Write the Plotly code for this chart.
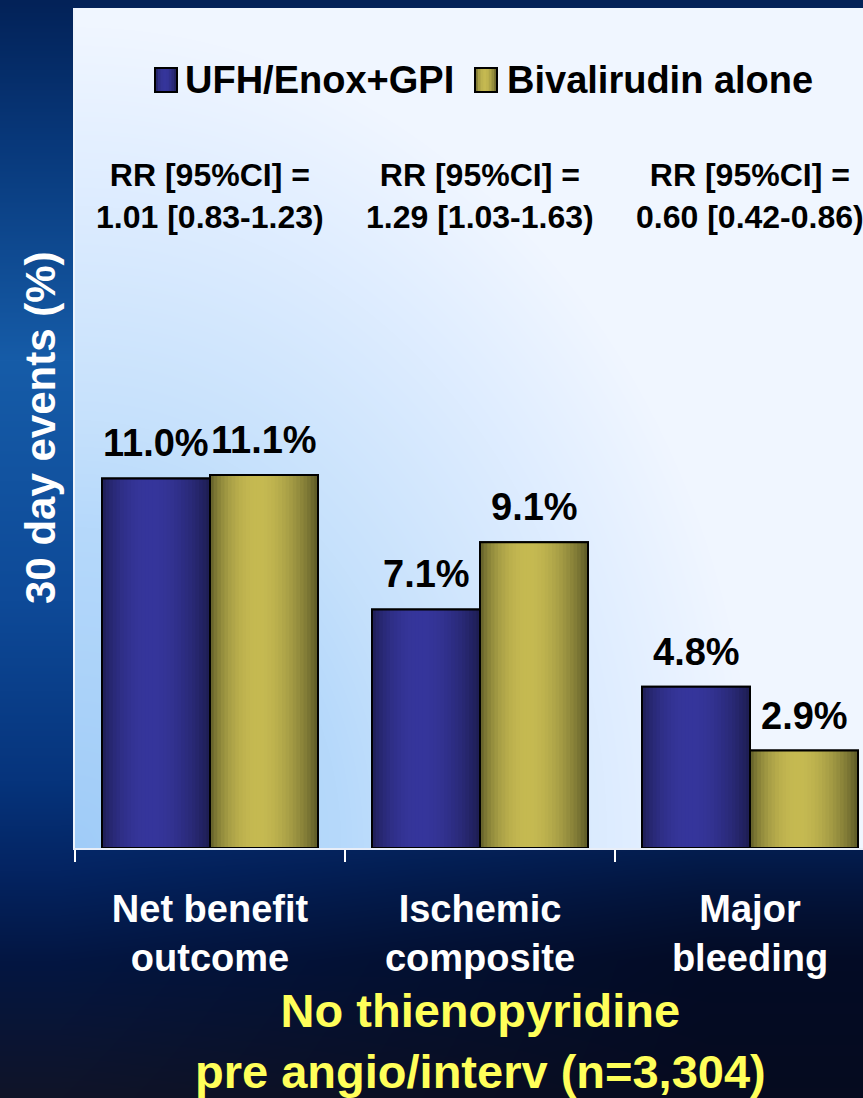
import base64
import struct
import zlib

import numpy as np
import plotly.graph_objects as go

# ---- data ----
categories = ["Net benefit<br>outcome", "Ischemic<br>composite", "Major<br>bleeding"]
series_names = ["UFH/Enox+GPI", "Bivalirudin alone"]
ufh_enox_gpi = [11.0, 7.1, 4.8]
bivalirudin_alone = [11.1, 9.1, 2.9]
rr_labels = [
    "RR [95%CI] =<br>1.01 [0.83-1.23)",
    "RR [95%CI] =<br>1.29 [1.03-1.63)",
    "RR [95%CI] =<br>0.60 [0.42-0.86)",
]
y_title = "30 day events (%)"
subtitle = "No thienopyridine<br>pre angio/interv (n=3,304)"

# ---- geometry / style ----
W, H = 863, 1098
ML, MR, MT, MB = 75, 0, 8, 250
PW, PH = W - ML - MR, H - MT - MB
Y_MAX = 25.0
CAT_PX = 270.0
X_RANGE = [-0.5, -0.5 + PW / CAT_PX]
BARGAP = 0.2
BAR_W = (1 - BARGAP) / 2
FONT = "Liberation Sans, Arial, sans-serif"

# cylinder shading: (edge colour, centre colour)
shade = {
    0: ((28, 28, 78), (54, 54, 156)),
    1: ((88, 86, 38), (198, 186, 82)),
}
mid_colors = ["#2f2f8c", "#b5ab4c"]

# legend layout (pixels): swatch left edge, text left edge
legend_items_px = [(155, 183), (475, 505)]
LEGEND_Y_PX = 80
SWATCH_W, SWATCH_H = 22, 24


def px_x(p):
    return (p - ML) / PW


def px_y(p):
    return (MT + PH - p) / PH


def interp_stops(pos, stops):
    ps = np.array([s[0] for s in stops], dtype=float)
    cs = np.array([s[1] for s in stops], dtype=float)
    out = np.empty(pos.shape + (3,))
    for c in range(3):
        out[..., c] = np.interp(pos, ps, cs[:, c])
    return out


def shade_color(s, t):
    edge, centre = np.array(shade[s][0]), np.array(shade[s][1])
    p = np.sin(np.pi * t ** 0.85) ** 0.8
    c = edge + (centre - edge) * p
    return "rgb(%d,%d,%d)" % tuple(c.astype(int))


def png_data_uri(img):
    h, w, _ = img.shape
    img = img.astype(np.uint8)
    sub = img.copy()
    sub[:, 1:, :] = img[:, 1:, :] - img[:, :-1, :]
    raw = b"".join(b"\x01" + sub[r].tobytes() for r in range(h))

    def chunk(tag, data):
        c = struct.pack(">I", len(data)) + tag + data
        return c + struct.pack(">I", zlib.crc32(tag + data) & 0xFFFFFFFF)

    png = b"\x89PNG\r\n\x1a\n"
    png += chunk(b"IHDR", struct.pack(">IIBBBBB", w, h, 8, 2, 0, 0, 0))
    png += chunk(b"IDAT", zlib.compress(raw, 9))
    png += chunk(b"IEND", b"")
    return "data:image/png;base64," + base64.b64encode(png).decode()


# ---- slide background: blue/navy gradient with a light chart panel ----
yy, xx = np.mgrid[0:H, 0:W].astype(float)
bg = interp_stops(
    yy,
    [
        (0, (3, 34, 88)),
        (140, (8, 56, 122)),
        (360, (22, 92, 168)),
        (600, (14, 74, 152)),
        (780, (6, 52, 124)),
        (870, (4, 36, 98)),
        (960, (3, 22, 66)),
        (1098, (16, 20, 40)),
    ],
)
dark = np.array([3, 8, 28], dtype=float)
fade = np.clip((xx - 60) / 650.0, 0, 1) * np.clip((yy - 760) / 200.0, 0, 1) * 0.75
bg = bg * (1 - fade[..., None]) + dark * fade[..., None]

u = (xx - ML) / PW
v = (MT + PH - yy) / PH
d = np.sqrt((u / 0.75) ** 2 + (v / 0.85) ** 2)
panel = interp_stops(
    d,
    [
        (0.0, (160, 204, 248)),
        (0.45, (182, 217, 251)),
        (0.6, (198, 225, 252)),
        (0.9, (221, 236, 255)),
        (1.15, (240, 246, 255)),
    ],
)
in_panel = (xx >= ML) & (yy >= MT) & (yy <= MT + PH)
bg[in_panel] = panel[in_panel]
bg_uri = png_data_uri(np.clip(bg, 0, 255))

# ---- figure ----
fig = go.Figure()
for s, (name, vals) in enumerate(zip(series_names, [ufh_enox_gpi, bivalirudin_alone])):
    fig.add_trace(
        go.Bar(
            x=categories,
            y=vals,
            name=name,
            marker=dict(color=mid_colors[s], line=dict(color="black", width=2)),
            hoverinfo="skip",
            showlegend=False,
        )
    )

shapes = []
annotations = []
K = 30
for s, vals in enumerate([ufh_enox_gpi, bivalirudin_alone]):
    off = (s - 0.5) * BAR_W
    for i, val in enumerate(vals):
        left = i + off - BAR_W / 2
        step = BAR_W / K
        for k in range(K):
            x1 = min(left + (k + 2) * step, left + BAR_W)
            shapes.append(
                dict(
                    type="rect", xref="x", yref="y", layer="above",
                    x0=left + k * step, x1=x1, y0=0, y1=val,
                    fillcolor=shade_color(s, (k + 0.5) / K),
                    line=dict(width=0),
                )
            )
        shapes.append(
            dict(
                type="rect", xref="x", yref="y", layer="above",
                x0=left, x1=left + BAR_W, y0=0, y1=val,
                fillcolor="rgba(0,0,0,0)", line=dict(color="black", width=2),
            )
        )
        annotations.append(
            dict(
                x=i + off, y=val, xref="x", yref="y", text=f"{val:.1f}%",
                showarrow=False, xanchor="center", yanchor="bottom", yshift=12,
                font=dict(family=FONT, size=38, color="black", weight="bold"),
            )
        )

# legend: shaded swatches with series names
KS = 8
for s, (name, (sx, tx)) in enumerate(zip(series_names, legend_items_px)):
    y0 = px_y(LEGEND_Y_PX + SWATCH_H / 2)
    y1 = px_y(LEGEND_Y_PX - SWATCH_H / 2)
    for k in range(KS):
        shapes.append(
            dict(
                type="rect", xref="paper", yref="paper", layer="above",
                x0=px_x(sx + k * SWATCH_W / KS),
                x1=px_x(sx + min(k + 2, KS) * SWATCH_W / KS),
                y0=y0, y1=y1, fillcolor=shade_color(s, (k + 0.5) / KS),
                line=dict(width=0),
            )
        )
    shapes.append(
        dict(
            type="rect", xref="paper", yref="paper", layer="above",
            x0=px_x(sx), x1=px_x(sx + SWATCH_W), y0=y0, y1=y1,
            fillcolor="rgba(0,0,0,0)", line=dict(color="black", width=2),
        )
    )
    annotations.append(
        dict(
            x=px_x(tx), y=px_y(LEGEND_Y_PX), xref="paper", yref="paper",
            text=name, showarrow=False, xanchor="left", yanchor="middle",
            font=dict(family=FONT, size=38, color="black", weight="bold"),
        )
    )

for i, txt in enumerate(rr_labels):
    annotations.append(
        dict(
            x=i, y=px_y(196), xref="x", yref="paper", text=txt,
            showarrow=False, xanchor="center", yanchor="middle",
            font=dict(family=FONT, size=32, color="black", weight="bold"),
        )
    )

annotations.append(
    dict(
        x=px_x(40), y=px_y(428), xref="paper", yref="paper",
        text=y_title, textangle=-90, showarrow=False,
        xanchor="center", yanchor="middle",
        font=dict(family=FONT, size=42, color="white", weight="bold"),
    )
)
annotations.append(
    dict(
        x=px_x(480), y=px_y(1041), xref="paper", yref="paper",
        text=subtitle, showarrow=False, xanchor="center", yanchor="middle",
        font=dict(family=FONT, size=47, color="#ffff5a", weight="bold"),
    )
)

fig.update_layout(
    width=W,
    height=H,
    margin=dict(l=ML, r=MR, t=MT, b=MB, pad=0),
    paper_bgcolor="#062050",
    plot_bgcolor="rgba(0,0,0,0)",
    barmode="group",
    bargap=BARGAP,
    bargroupgap=0,
    images=[
        dict(
            source=bg_uri, xref="paper", yref="paper",
            x=-ML / PW, y=1 + MT / PH, sizex=W / PW, sizey=H / PH,
            xanchor="left", yanchor="top", sizing="stretch", layer="below",
        )
    ],
    shapes=shapes,
    annotations=annotations,
    showlegend=False,
    xaxis=dict(
        type="category",
        categoryorder="array",
        categoryarray=categories,
        range=X_RANGE,
        showline=True, linecolor="#e8eef8", linewidth=2,
        ticks="outside", tickson="boundaries", ticklen=12, tickwidth=2,
        tickcolor="white",
        ticklabelstandoff=26,
        tickfont=dict(family=FONT, size=38, color="white", weight="bold"),
        showgrid=False, zeroline=False, fixedrange=True,
    ),
    yaxis=dict(
        range=[0, Y_MAX], showline=True, linecolor="#eef4fc", linewidth=2,
        showticklabels=False, ticks="", showgrid=False, zeroline=False,
    ),
)

fig.write_html("out.html")
